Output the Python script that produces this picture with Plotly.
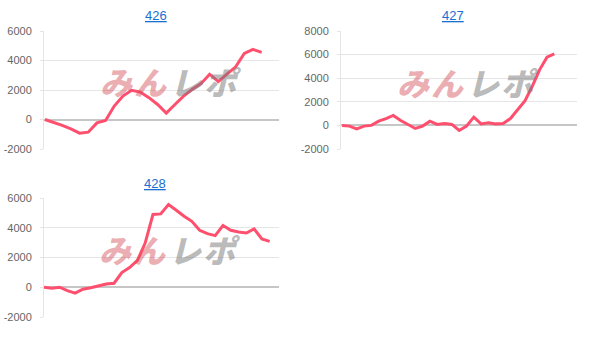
import plotly.graph_objects as go

# ---- data ----
titles = ["426", "427", "428"]
vals_426 = [0, -180, -400, -640, -930, -860, -230, -70, 910, 1590, 1980, 1860, 1480,
            1020, 430, 1020, 1590, 2050, 2430, 3070, 2570, 3070, 3570, 4480, 4750, 4550]
vals_427 = [0, -60, -290, -60, 0, 360, 580, 840, 410, 80, -260, -60, 360, 80, 160, 80,
            -430, -60, 700, 130, 220, 130, 160, 580, 1340, 2100, 3320, 4730, 5780, 6060]
vals_428 = [0, -70, 0, -230, -400, -135, -30, 90, 220, 270, 990, 1320, 1800, 2970, 4890,
            4930, 5560, 5180, 4770, 4430, 3830, 3600, 3470, 4150, 3830, 3720, 3650, 3920,
            3250, 3080]
series = [vals_426, vals_427, vals_428]
y_ticks = [[-2000, 0, 2000, 4000, 6000],
           [-2000, 0, 2000, 4000, 6000, 8000],
           [-2000, 0, 2000, 4000, 6000]]
watermark_a = "みん"
watermark_b = "レポ"

# ---- layout geometry (px in 611x338 page) ----
W, H = 611, 338
boxes = [  # left, right, top, bottom
    (44, 279, 31, 149),
    (341, 577, 31, 149),
    (44, 279, 198, 317),
]
x_ranges = [[-0.1, 27.0], [-0.15, 32.1], [0, 30.2]]
title_pos = [(156, 15), (453, 15), (155, 183)]
wm_pos = [(170.5, 81), (467.5, 82.5), (169.5, 249)]

LINE = "#ff4f6e"
SP = "\u200a"
fig = go.Figure()
layout = dict(
    width=W, height=H, margin=dict(l=0, r=0, t=0, b=0, pad=0), autosize=False,
    paper_bgcolor="white", plot_bgcolor="rgba(0,0,0,0)",
    showlegend=False, annotations=[],
    font=dict(family="Liberation Sans, Arial, sans-serif"),
)

for i, vals in enumerate(series):
    n = i + 1
    xa = "x" if n == 1 else f"x{n}"
    ya = "y" if n == 1 else f"y{n}"
    fig.add_trace(go.Scatter(
        x=list(range(len(vals))), y=vals, mode="lines",
        line=dict(color=LINE, width=3), xaxis=xa, yaxis=ya,
        hoverinfo="skip"))
    l, r, t, b = boxes[i]
    layout[f"xaxis{'' if n == 1 else n}"] = dict(
        domain=[l / W, r / W], range=x_ranges[i], anchor=ya,
        showgrid=False, zeroline=False, showline=False, automargin=False,
        showticklabels=False, ticks="", fixedrange=True)
    yt = y_ticks[i]
    layout[f"yaxis{'' if n == 1 else n}"] = dict(
        domain=[1 - b / H, 1 - t / H], range=[yt[0], yt[-1]], anchor=xa,
        tickvals=yt, ticktext=[str(v) for v in yt], automargin=False,
        showgrid=True, gridcolor="#e5e5e5", gridwidth=1,
        zeroline=True, zerolinecolor="#c6c6c6", zerolinewidth=1.5,
        showline=True, linecolor="#e5e5e5", linewidth=1,
        ticks="outside", ticklen=3, tickcolor="#e5e5e5",
        ticklabelstandoff=6,
        tickfont=dict(size=11, color="#666666",
                      family="Liberation Sans, Arial, sans-serif"),
        fixedrange=True)
    tx, ty = title_pos[i]
    layout["annotations"].append(dict(
        text=f"<u>{titles[i]}</u>", x=tx / W, y=1 - ty / H,
        xref="paper", yref="paper", showarrow=False,
        xanchor="center", yanchor="middle",
        font=dict(size=13, color="#1a6fd1",
                  family="Liberation Sans, Arial, sans-serif")))
    wx, wy = wm_pos[i]
    wa = SP.join(watermark_a)
    wb = SP.join(watermark_b)
    layout["annotations"].append(dict(
        text=(f'<span style="color:rgba(210,70,80,0.44)">{wa}</span>{SP}{SP}'
              f'<span style="color:rgba(120,120,120,0.52)">{wb}</span>'),
        x=wx / W, y=1 - wy / H, xref="paper", yref="paper", showarrow=False,
        xanchor="center", yanchor="middle",
        font=dict(size=32, family="Noto Sans CJK JP", weight=900,
                  style="italic")))

fig.update_layout(**layout)
fig.write_html("out.html")
